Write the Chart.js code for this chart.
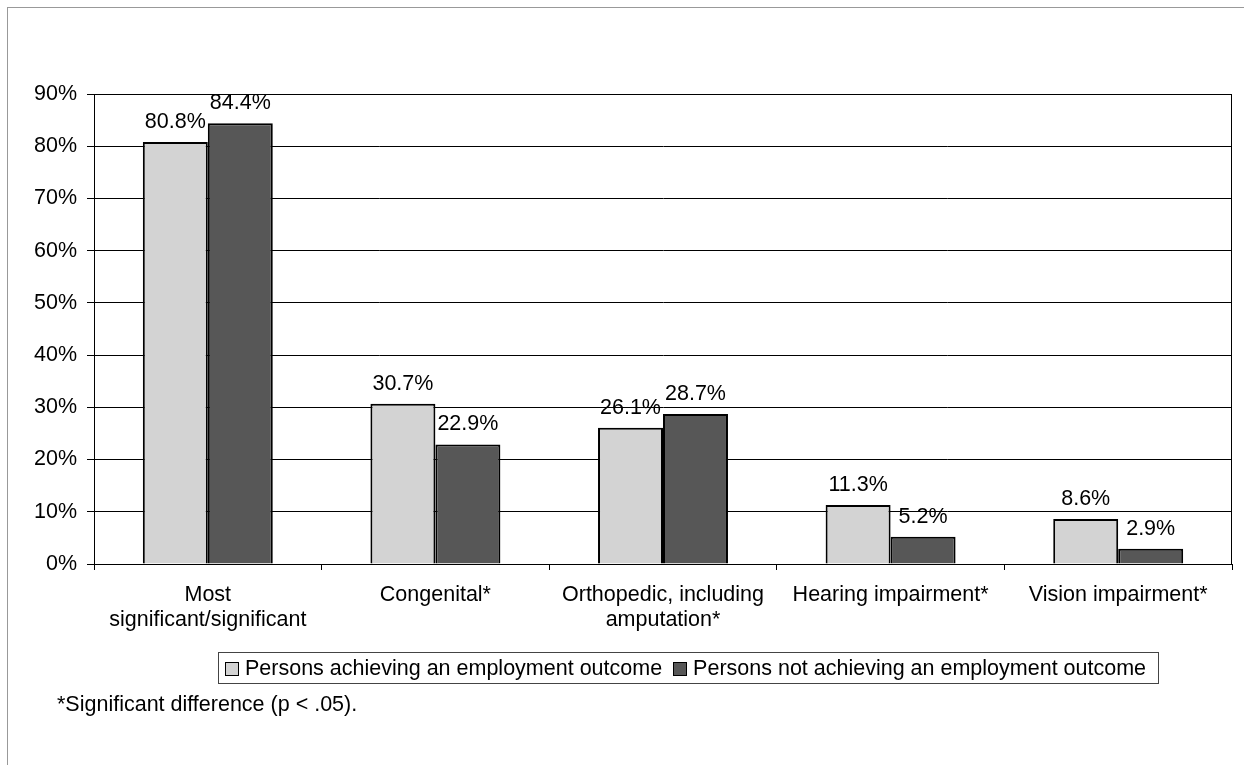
<!DOCTYPE html>
<html>
<head>
<meta charset="utf-8">
<script src="https://cdn.jsdelivr.net/npm/chart.js@4/dist/chart.umd.min.js"></script>
<style>
  body { margin: 0; background: #fff; font-family: "Liberation Sans", Arial, sans-serif; }
  #wrap { position: relative; width: 1244px; height: 765px; overflow: hidden; }
  #frame { position: absolute; left: 7px; top: 7px; width: 1300px; height: 800px;
           border-top: 1px solid #999; border-left: 1px solid #999; }
  canvas { position: absolute; left: 0; top: 0; }
  #legend { position: absolute; left: 218px; top: 652px; width: 939px; height: 30px;
            border: 1px solid #444; font-size: 21.5px; line-height: 30px; white-space: nowrap; }
  #legend span.box { display: inline-block; width: 12px; height: 12px; border: 1px solid #000;
                     vertical-align: -1px; margin: 0 6px 0 6px; }
  #legend span.box + span { margin-right: 5px; }
  #note { position: absolute; left: 57px; top: 694px; font-size: 21.5px; line-height: 1; }
</style>
</head>
<body>
<div id="wrap">
  <div id="frame"></div>
  <canvas id="chart" width="1244" height="765"></canvas>
  <div id="legend"></div>
  <div id="note">*Significant difference (p &lt; .05).</div>
</div>
<script>
// data
const categories = [
  ['Most', 'significant/significant'],
  'Congenital*',
  ['Orthopedic, including', 'amputation*'],
  'Hearing impairment*',
  'Vision impairment*'
];
const achieving = [80.8, 30.7, 26.1, 11.3, 8.6];
const notAchieving = [84.4, 22.9, 28.7, 5.2, 2.9];
const seriesNames = ['Persons achieving an employment outcome', 'Persons not achieving an employment outcome'];
const yTicks = [0, 10, 20, 30, 40, 50, 60, 70, 80, 90];

const colors = ['#d3d3d3', '#575757'];
const font = { family: '"Liberation Sans", Arial, sans-serif', size: 21.5, lineHeight: 1.16 };

// value labels above each bar
const barLabels = {
  id: 'barLabels',
  afterDatasetsDraw(chart) {
    const ctx = chart.ctx;
    ctx.save();
    ctx.font = '21.5px "Liberation Sans", Arial, sans-serif';
    ctx.fillStyle = '#000';
    ctx.textAlign = 'center';
    ctx.textBaseline = 'alphabetic';
    chart.data.datasets.forEach((ds, i) => {
      chart.getDatasetMeta(i).data.forEach((bar, j) => {
        ctx.fillText(ds.data[j].toFixed(1) + '%', bar.x, bar.y - 14);
      });
    });
    ctx.restore();
  }
};

// box round the plot area
const plotBorder = {
  id: 'plotBorder',
  afterDraw(chart) {
    const a = chart.chartArea, ctx = chart.ctx;
    ctx.save();
    ctx.strokeStyle = '#000';
    ctx.lineWidth = 1;
    ctx.strokeRect(Math.round(a.left) + 0.5, Math.round(a.top) + 0.5,
                   Math.round(a.right - a.left) - 1, Math.round(a.bottom - a.top));
    ctx.restore();
  }
};

new Chart(document.getElementById('chart'), {
  type: 'bar',
  data: {
    labels: categories,
    datasets: [
      { label: seriesNames[0], data: achieving, backgroundColor: colors[0], borderColor: '#000', borderWidth: 2 },
      { label: seriesNames[1], data: notAchieving, backgroundColor: colors[1], borderColor: '#000', borderWidth: 2 }
    ]
  },
  options: {
    responsive: false,
    animation: false,
    layout: { padding: { left: 0, top: 94, right: 12, bottom: 0 } },
    datasets: { bar: { categoryPercentage: 0.571, barPercentage: 1 } },
    plugins: { legend: { display: false }, tooltip: { enabled: false } },
    scales: {
      x: {
        afterFit: s => { s.height = 201; },
        grid: { drawOnChartArea: false, offset: true, tickLength: 6, color: '#000' },
        border: { color: '#000' },
        ticks: { color: '#000', font: font, padding: 13, maxRotation: 0, autoSkip: false }
      },
      y: {
        min: 0, max: 90,
        afterFit: s => { s.width = 94; },
        afterBuildTicks: s => { s.ticks = yTicks.map(v => ({ value: v })); },
        grid: { color: '#000', tickLength: 7 },
        border: { color: '#000' },
        ticks: { color: '#000', font: font, padding: 10, callback: v => v + '%' }
      }
    }
  },
  plugins: [barLabels, plotBorder]
});

document.getElementById('legend').innerHTML = seriesNames.map((n, i) =>
  '<span class="box" style="background:' + colors[i] + '"></span><span>' + n + '</span>').join('');
</script>
</body>
</html>
